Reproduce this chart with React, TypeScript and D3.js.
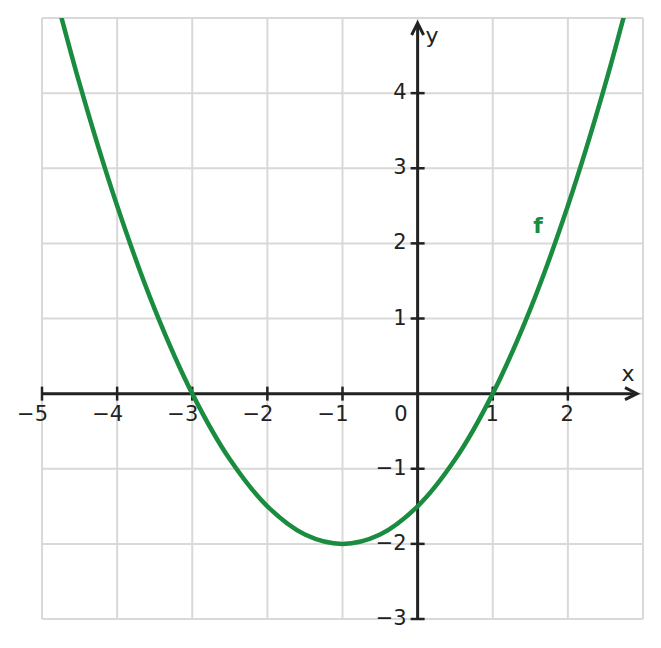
import { useMemo } from "react";
import { scaleLinear, line, curveCatmullRom } from "d3";

const curveX = [-5, -4.5, -4, -3.5, -3, -2.5, -2, -1.5, -1, -0.5, 0, 0.5, 1, 1.5, 2, 2.5, 3];
const curveY = [6, 4.125, 2.5, 1.125, 0, -0.875, -1.5, -1.875, -2, -1.875, -1.5, -0.875, 0, 1.125, 2.5, 4.125, 6];

const xTicks = [-5, -4, -3, -2, -1, 1, 2];
const yTicks = [-3, -2, -1, 1, 2, 3, 4];
const xGrid = [-5, -4, -3, -2, -1, 0, 1, 2, 3];
const yGrid = [-3, -2, -1, 0, 1, 2, 3, 4, 5];

const W = 661;
const H = 648;
const GRID = "#d9d9d9";
const AXIS = "#222222";
const GREEN = "#1a8c3f";
const FONT = "'DejaVu Sans', sans-serif";
const FS = 21;
const HALF_DIGIT = 6; // so the digit, not the minus, sits on the tick

const fmt = (v: number) => (v < 0 ? `\u2212${Math.abs(v)}` : `${v}`);

export default function App() {
  const x = useMemo(() => scaleLinear().domain([-5, 3]).range([42, 643]), []);
  const y = useMemo(() => scaleLinear().domain([-3, 5]).range([619, 18]), []);

  const pts = curveX.map((v, i) => [v, curveY[i]] as [number, number]);
  const path = line<[number, number]>()
    .x((d) => x(d[0]))
    .y((d) => y(d[1]))
    .curve(curveCatmullRom)(pts);

  const x0 = x(0);
  const y0 = y(0);

  return (
    <svg
      width={W}
      height={H}
      style={{ position: "fixed", left: 0, top: 0, background: "#fff" }}
      fontFamily={FONT}
    >
      <defs>
        <clipPath id="plot">
          <rect x={x(-5)} y={y(5)} width={x(3) - x(-5)} height={y(-3) - y(5)} />
        </clipPath>
      </defs>
      {xGrid.map((v) => (
        <line key={"gx" + v} x1={x(v)} x2={x(v)} y1={y(5)} y2={y(-3)} stroke={GRID} strokeWidth={2} />
      ))}
      {yGrid.map((v) => (
        <line key={"gy" + v} x1={x(-5)} x2={x(3)} y1={y(v)} y2={y(v)} stroke={GRID} strokeWidth={2} />
      ))}

      {/* axes */}
      <line x1={x(-5)} x2={x(3) - 8} y1={y0} y2={y0} stroke={AXIS} strokeWidth={3} />
      <line x1={x0} x2={x0} y1={y(-3)} y2={y(5) + 6} stroke={AXIS} strokeWidth={3} />
      <path
        d={`M${x(3) - 18},${y0 - 6} L${x(3) - 6},${y0} L${x(3) - 18},${y0 + 6}`}
        fill="none"
        stroke={AXIS}
        strokeWidth={3}
      />
      <path
        d={`M${x0 - 6},${y(5) + 17} L${x0},${y(5) + 5} L${x0 + 6},${y(5) + 17}`}
        fill="none"
        stroke={AXIS}
        strokeWidth={3}
      />

      {xTicks.map((v) => (
        <g key={"tx" + v}>
          <line x1={x(v)} x2={x(v)} y1={y0 - 7} y2={y0 + 7} stroke={AXIS} strokeWidth={2.5} />
          <text x={x(v) + HALF_DIGIT} y={y0 + 27} textAnchor="end" fontSize={FS} fill={AXIS}>
            {fmt(v)}
          </text>
        </g>
      ))}
      {yTicks.map((v) => (
        <g key={"ty" + v}>
          <line x1={x0 - 7} x2={x0 + 7} y1={y(v)} y2={y(v)} stroke={AXIS} strokeWidth={2.5} />
          <text x={x0 - 11} y={y(v) + 6} textAnchor="end" fontSize={FS} fill={AXIS}>
            {fmt(v)}
          </text>
        </g>
      ))}
      <text x={x0 - 10} y={y0 + 27} textAnchor="end" fontSize={FS} fill={AXIS}>
        0
      </text>
      <text x={628} y={381} textAnchor="middle" fontSize={22} fill={AXIS}>
        x
      </text>
      <text x={432} y={43} textAnchor="middle" fontSize={22} fill={AXIS}>
        y
      </text>

      <path d={path ?? ""} fill="none" stroke={GREEN} strokeWidth={4.5} clipPath="url(#plot)" />
      <text x={538} y={233} textAnchor="middle" fontSize={22} fontWeight="bold" fill={GREEN}>
        f
      </text>
    </svg>
  );
}
